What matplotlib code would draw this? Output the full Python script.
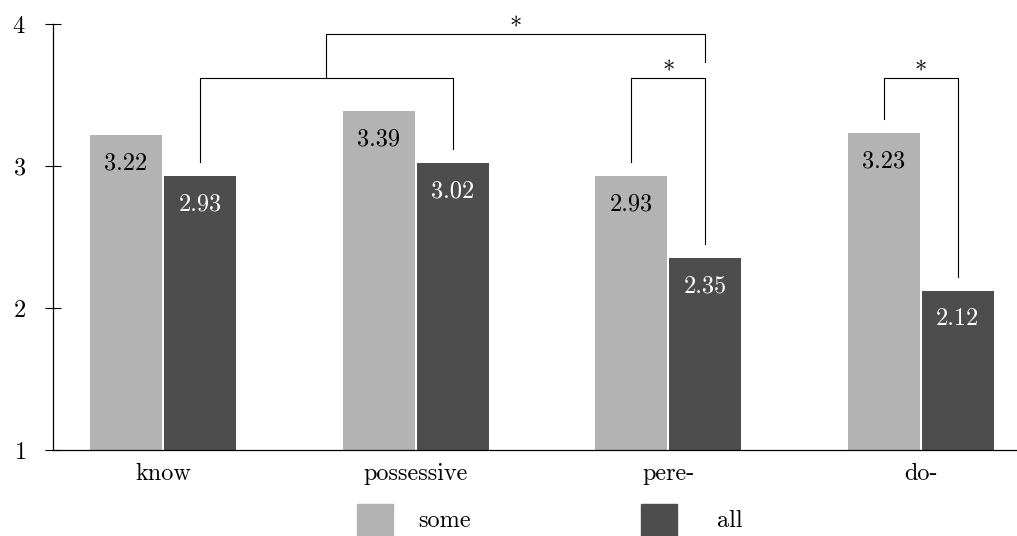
import numpy as np
import matplotlib
matplotlib.use("Agg")
import matplotlib.pyplot as plt
from matplotlib.patches import Rectangle

plt.rcParams['font.family'] = ['cmr10', 'DejaVu Serif']
plt.rcParams['axes.formatter.use_mathtext'] = True

categories = ['know', 'possessive', 'pere-', 'do-']
some_vals = [3.22, 3.39, 2.93, 3.23]
all_vals = [2.93, 3.02, 2.35, 2.12]
series_names = ['some', 'all']
y_ticks = [1, 2, 3, 4]

LIGHT = '#b3b3b3'
DARK = '#4d4d4d'
FS = 17.5

fig = plt.figure(figsize=(10.17, 5.36), dpi=100)
ax = fig.add_axes([53 / 1017, 86 / 536, 964 / 1017, 426 / 536])

x = np.arange(len(categories))
w = 0.285
off = 0.1465
ax.bar(x - off, np.array(some_vals) - 1, w, bottom=1, color=LIGHT)
ax.bar(x + off, np.array(all_vals) - 1, w, bottom=1, color=DARK)

for xi, v in zip(x - off, some_vals):
    ax.text(xi, v - 0.2, f'{v:.2f}', ha='center', va='center', fontsize=FS, color='black')
for xi, v in zip(x + off, all_vals):
    ax.text(xi, v - 0.2, f'{v:.2f}', ha='center', va='center', fontsize=FS, color='white')


def bracket(x1, y1, x2, y2, top, star=False):
    ax.plot([x1, x1, x2, x2], [y1, top, top, y2], color='black', lw=0.8, clip_on=False)
    if star:
        ax.text((x1 + x2) / 2, top - 0.04, '*', ha='center', va='bottom', fontsize=FS, clip_on=False)


low = 3.62
high = 3.93
# know (all) vs possessive (all)
bracket(x[0] + off, all_vals[0] + 0.1, x[1] + off, all_vals[1] + 0.1, low)
# pere- some vs all
bracket(x[2] - off, some_vals[2] + 0.1, x[2] + off, all_vals[2] + 0.1, low, star=True)
# do- some vs all
bracket(x[3] - off, some_vals[3] + 0.1, x[3] + off, all_vals[3] + 0.1, low, star=True)
# know/possessive vs pere- all
bracket((x[0] + x[1]) / 2 + off, low, x[2] + off, low + 0.11, high, star=True)

ax.set_xlim(-0.436, 3.382)
ax.set_ylim(1, 4)
ax.set_yticks(y_ticks)
ax.set_xticks(x)
ax.set_xticklabels(categories)
ax.tick_params(axis='x', length=0, pad=9, labelsize=FS)
ax.tick_params(axis='y', direction='inout', length=11, width=0.8, pad=14, labelsize=FS)
for s in ['top', 'right']:
    ax.spines[s].set_visible(False)
ax.spines['left'].set_linewidth(0.9)
ax.spines['bottom'].set_linewidth(0.9)

# legend drawn by hand (uneven spacing in the original)
W, H = 1017, 536
for name, col, sx, tx in [(series_names[0], LIGHT, 357, 418), (series_names[1], DARK, 641, 717)]:
    fig.add_artist(Rectangle((sx / W, (H - 540) / H), 36 / W, 36 / H,
                             transform=fig.transFigure, color=col, clip_on=False))
    fig.text(tx / W, (H - 527) / H, name, ha='left', va='baseline', fontsize=FS)

fig.savefig('out.png', dpi=100)
